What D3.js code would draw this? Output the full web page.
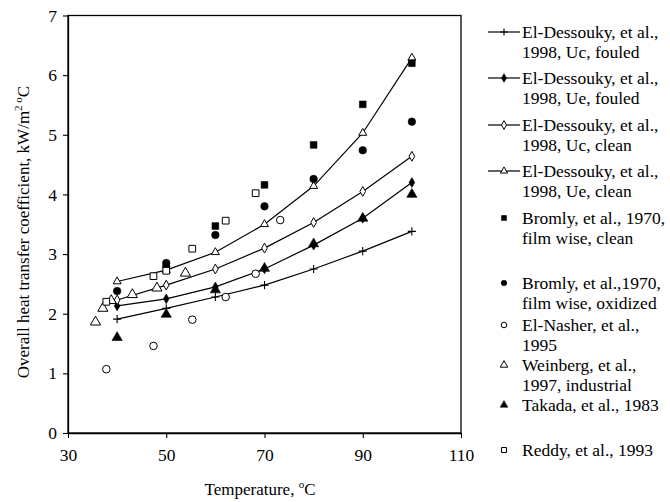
<!DOCTYPE html>
<html>
<head>
<meta charset="utf-8">
<script src="https://cdn.jsdelivr.net/npm/d3@7"></script>
<style>
  body { margin: 0; background: #fff; }
  svg, svg text { font-family: "Liberation Serif", "Times New Roman", serif; }
</style>
</head>
<body>
<div id="chart"></div>
<script>
// Model curves (El-Dessouky, 1998)
const lineX = [40, 50, 60, 70, 80, 90, 100];
const ucFouled = [1.91, 2.09, 2.28, 2.48, 2.75, 3.05, 3.38];
const ueFouled = [2.13, 2.25, 2.45, 2.75, 3.15, 3.6, 4.2];
const ucClean = [2.23, 2.48, 2.75, 3.1, 3.53, 4.05, 4.64];
const ueClean = [2.54, 2.73, 3.03, 3.5, 4.14, 5.03, 6.29];

// Measured points [temperature, U]
const bromlyClean = [[60, 3.47], [70, 4.16], [80, 4.83], [90, 5.51], [100, 6.2]];
const bromlyOxid = [[40, 2.38], [50, 2.85], [50, 2.79], [60, 3.32], [70, 3.8], [80, 4.26], [90, 4.74], [100, 5.22]];
const elNasher = [[37.8, 1.07], [47.4, 1.46], [55.3, 1.9], [62.1, 2.28], [68.2, 2.67], [73.2, 3.57]];
const weinberg = [[35.6, 1.86], [37.1, 2.09], [38.8, 2.22], [43.1, 2.32], [48.1, 2.43], [53.9, 2.68]];
const takada = [[40, 1.6], [50, 1.99], [60, 2.4], [70, 2.76], [80, 3.17], [90, 3.6], [100, 4.0]];
const reddy = [[37.8, 2.2], [47.4, 2.63], [50, 2.72], [55.3, 3.09], [62.1, 3.56], [68.2, 4.02]];

const xTicks = [30, 50, 70, 90, 110];
const yTicks = [0, 1, 2, 3, 4, 5, 6, 7];

const legendLabels = [
    ["El-Dessouky, et al.,", "1998, Uc, fouled"],
    ["El-Dessouky, et al.,", "1998, Ue, fouled"],
    ["El-Dessouky, et al.,", "1998, Uc, clean"],
    ["El-Dessouky, et al.,", "1998, Ue, clean"],
    ["Bromly, et al., 1970,", "film wise, clean"],
    ["Bromly, et al.,1970,", "film wise, oxidized"],
    ["El-Nasher, et al.,", "1995"],
    ["Weinberg, et al.,", "1997, industrial"],
    ["Takada, et al., 1983"],
    ["Reddy, et al., 1993"]
];

const W = 670, H = 502;
const FONT = '"Liberation Serif", "Times New Roman", serif';
const svg = d3.select("#chart").append("svg")
    .attr("width", W)
    .attr("height", H);

const x = d3.scaleLinear().domain([30, 110]).range([68, 461]);
const y = d3.scaleLinear().domain([0, 7]).range([433, 15.5]);

// marker drawing helper
function marker(g, type, size) {
    const s = size || 1;
    if (type === "plus") {
        const r = 4.5 * s;
        g.append("path").attr("d", `M${-r},0H${r}M0,${-r}V${r}`)
            .attr("stroke", "#000").attr("stroke-width", 1.1).attr("fill", "none");
        return;
    }
    const open = type.endsWith("Open");
    const symType = {
        diamond: d3.symbolDiamond,
        triangle: d3.symbolTriangle,
        square: d3.symbolSquare,
        circle: d3.symbolCircle
    }[type.replace("Open", "")];
    g.append("path")
        .attr("d", d3.symbol().type(symType).size(34 * s * s)())
        .attr("fill", open ? "#fff" : "#000")
        .attr("stroke", "#000")
        .attr("stroke-width", open ? 1 : 0.6);
}

// frame
svg.append("rect")
    .attr("x", x(30)).attr("y", y(7))
    .attr("width", x(110) - x(30)).attr("height", y(0) - y(7))
    .attr("fill", "none").attr("stroke", "#000").attr("stroke-width", 1.3);

// axes
const xAxis = svg.append("g")
    .attr("transform", `translate(0,${y(0)})`)
    .call(d3.axisBottom(x).tickValues(xTicks).tickFormat(d3.format("d"))
        .tickSize(5).tickPadding(11).tickSizeOuter(0));
const yAxis = svg.append("g")
    .attr("transform", `translate(${x(30)},0)`)
    .call(d3.axisLeft(y).tickValues(yTicks).tickFormat(d3.format("d"))
        .tickSize(5).tickPadding(6).tickSizeOuter(0));
[xAxis, yAxis].forEach(a => {
    a.attr("font-family", null).attr("font-size", null);
    a.select(".domain").attr("stroke-width", 1.3);
    a.selectAll("line").attr("stroke-width", 1.1);
    a.selectAll("text").style("font-size", "17.5px").style("font-family", FONT).attr("fill", "#000");
});

// axis titles
const xt = svg.append("text")
    .attr("x", 260).attr("y", 495)
    .attr("text-anchor", "middle").style("font-size", "17px");
xt.append("tspan").text("Temperature, ");
xt.append("tspan").style("font-size", "11px").attr("dy", -7).text("o");
xt.append("tspan").attr("dy", 7).text("C");

const yt = svg.append("text")
    .attr("transform", "translate(29,232) rotate(-90)")
    .attr("text-anchor", "middle").style("font-size", "17px");
yt.append("tspan").text("Overall heat transfer coefficient, kW/m");
yt.append("tspan").style("font-size", "11px").attr("dy", -7).text("2");
yt.append("tspan").style("font-size", "11px").text(" o");
yt.append("tspan").attr("dy", 7).text("C");

// model lines
const curves = [
    { vals: ucFouled, m: "plus" },
    { vals: ueFouled, m: "diamond" },
    { vals: ucClean, m: "diamondOpen" },
    { vals: ueClean, m: "triangleOpen" }
];
const line = d3.line().x(d => x(d[0])).y(d => y(d[1]));
curves.forEach(c => {
    const pts = lineX.map((t, i) => [t, c.vals[i]]);
    svg.append("path").datum(pts)
        .attr("d", line)
        .attr("fill", "none").attr("stroke", "#000").attr("stroke-width", 1.2);
    pts.forEach(p => {
        const g = svg.append("g").attr("transform", `translate(${x(p[0])},${y(p[1])})`);
        marker(g, c.m, 0.9);
    });
});

// scatter sets
const scatters = [
    { pts: bromlyClean, m: "square" },
    { pts: bromlyOxid, m: "circle" },
    { pts: elNasher, m: "circleOpen" },
    { pts: weinberg, m: "triangleOpen" },
    { pts: takada, m: "triangle" },
    { pts: reddy, m: "squareOpen" }
];
scatters.forEach(s => {
    s.pts.forEach(p => {
        const g = svg.append("g").attr("transform", `translate(${x(p[0])},${y(p[1])})`);
        marker(g, s.m, 1.15);
    });
});

// legend
const legendY = [32, 78, 125, 171, 218, 283, 325, 365, 405, 450];
const legendMarks = ["plus", "diamond", "diamondOpen", "triangleOpen", "square", "circle", "circleOpen", "triangleOpen", "triangle", "squareOpen"];
legendLabels.forEach((lab, i) => {
    const g = svg.append("g").attr("transform", `translate(0,${legendY[i]})`);
    if (i < 4) {
        g.append("line").attr("x1", 488).attr("x2", 520)
            .attr("stroke", "#000").attr("stroke-width", 1.2);
    }
    const mg = g.append("g").attr("transform", "translate(504,0)");
    marker(mg, legendMarks[i], i < 4 ? 0.8 : 0.85);
    lab.forEach((t, j) => {
        g.append("text")
            .attr("x", 522).attr("y", 6 + j * 20)
            .style("font-size", "17.5px").attr("fill", "#000")
            .text(t);
    });
});
</script>
</body>
</html>
